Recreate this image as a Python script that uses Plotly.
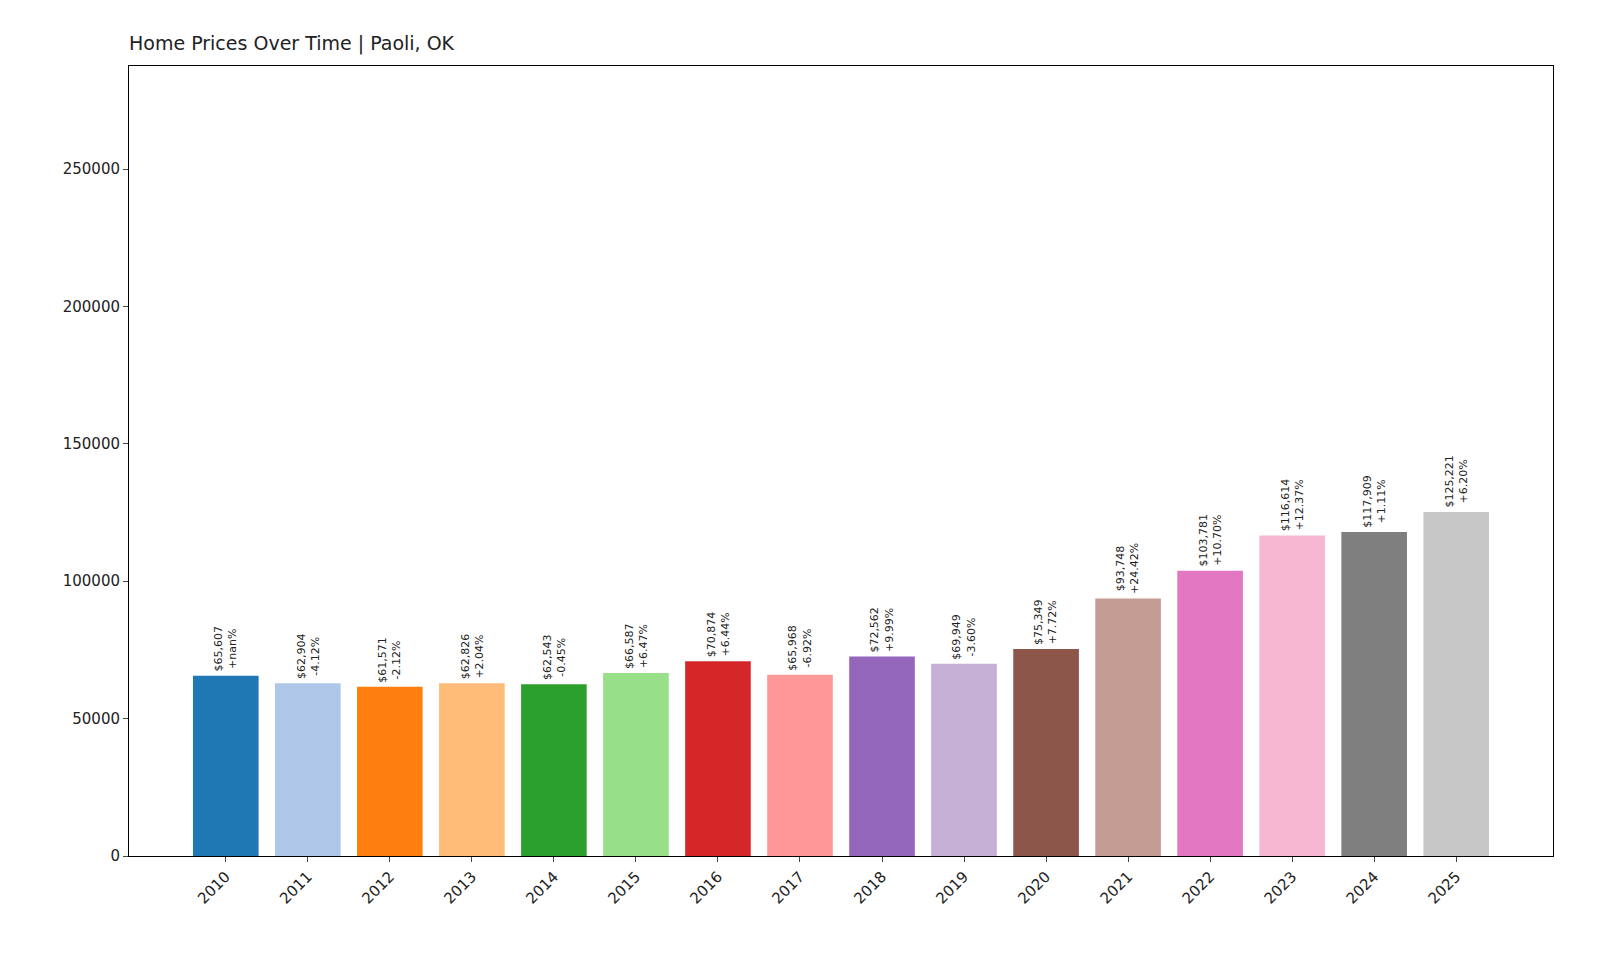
import plotly.graph_objects as go

years = list(range(2010, 2026))
prices = [65607, 62904, 61571, 62826, 62543, 66587, 70874, 65968, 72562, 69949,
          75349, 93748, 103781, 116614, 117909, 125221]
changes = ["+nan%", "-4.12%", "-2.12%", "+2.04%", "-0.45%", "+6.47%", "+6.44%", "-6.92%",
           "+9.99%", "-3.60%", "+7.72%", "+24.42%", "+10.70%", "+12.37%", "+1.11%", "+6.20%"]
colors = ["#1f77b4", "#aec7e8", "#ff7f0e", "#ffbb78", "#2ca02c", "#98df8a", "#d62728", "#ff9896",
          "#9467bd", "#c5b0d5", "#8c564b", "#c49c94", "#e377c2", "#f7b6d2", "#7f7f7f", "#c7c7c7"]

fig = go.Figure(go.Bar(x=years, y=prices, marker_color=colors, width=0.8, marker_line_width=0))

for yr, p, c in zip(years, prices, changes):
    fig.add_annotation(x=yr, y=p, text=f"${p:,}<br>{c}", textangle=-90, showarrow=False,
                       yanchor="bottom", yshift=2, font=dict(size=11, color="#222"))

fig.update_layout(
    width=1600, height=960,
    plot_bgcolor="white", paper_bgcolor="white",
    font=dict(family="DejaVu Sans", size=15, color="#222"),
    margin=dict(l=121, r=55, t=58, b=112),
    title=dict(text="Home Prices Over Time | Paoli, OK", x=121 / 1600, xanchor="left",
               y=1 - 35 / 960, yanchor="middle", font=dict(size=19)),
    showlegend=False, bargap=0.2,
)
fig.update_xaxes(range=[2008.82, 2026.18], tickvals=years, tickangle=-45,
                 showline=True, linecolor="black", mirror=True, ticks="outside",
                 showgrid=False, tickfont=dict(size=15))
fig.update_yaxes(range=[0, 287500], tickvals=[0, 50000, 100000, 150000, 200000, 250000],
                 tickformat="d", showline=True, linecolor="black", mirror=True,
                 ticks="outside", showgrid=False, zeroline=False, tickfont=dict(size=15))

fig.write_html("out.html")
